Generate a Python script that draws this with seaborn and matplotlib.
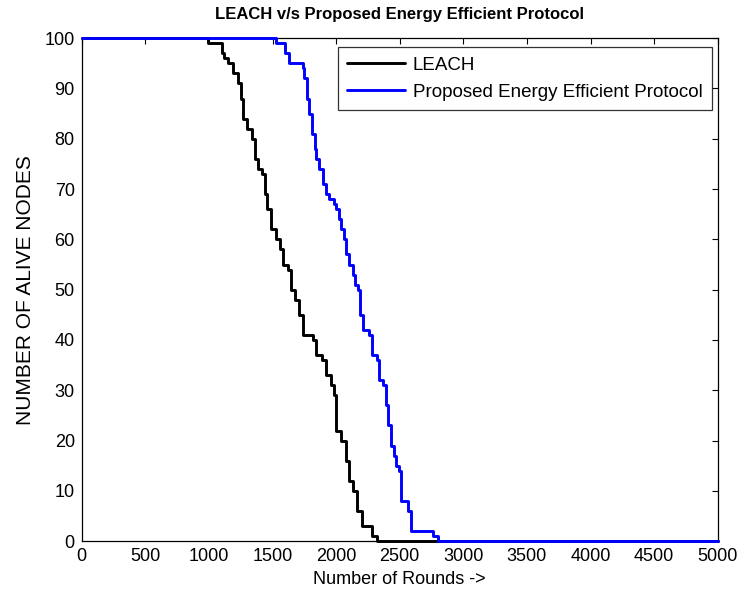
import matplotlib
matplotlib.use("Agg")
import matplotlib.pyplot as plt
import seaborn as sns
import pandas as pd

# Rounds at which the number of alive nodes changes, and the count from then on
leach_rounds = [0, 995, 1100, 1115, 1150, 1190, 1230, 1250, 1268, 1300, 1340, 1360,
                1385, 1420, 1438, 1460, 1490, 1525, 1555, 1580, 1620, 1645, 1675,
                1710, 1740, 1820, 1845, 1890, 1920, 1960, 1985, 2000, 2040, 2080,
                2105, 2130, 2165, 2200, 2280, 2320, 5000]
leach_alive = [100, 99, 97, 96, 95, 93, 91, 88, 84, 82, 80, 76,
               74, 73, 69, 66, 62, 60, 58, 55, 54, 50, 48,
               45, 41, 40, 37, 36, 33, 31, 29, 22, 20, 16,
               12, 10, 6, 3, 1, 0, 0]

proposed_rounds = [0, 1530, 1600, 1630, 1740, 1750, 1770, 1790, 1810, 1830, 1845,
                   1865, 1895, 1920, 1945, 1985, 2000, 2025, 2040, 2065, 2080, 2105,
                   2130, 2150, 2170, 2185, 2210, 2260, 2285, 2320, 2340, 2365, 2390,
                   2410, 2430, 2455, 2470, 2495, 2510, 2565, 2592, 2615, 2762, 2790,
                   2800, 5000]
proposed_alive = [100, 99, 97, 95, 94, 92, 88, 85, 81, 78, 76,
                  74, 71, 69, 68, 67, 66, 64, 62, 60, 57, 55,
                  53, 51, 50, 45, 42, 41, 37, 36, 32, 31, 27,
                  23, 19, 17, 15, 14, 8, 6, 2, 2, 1, 1,
                  0, 0]

series_names = ["LEACH", "Proposed Energy Efficient Protocol"]
x_ticks = list(range(0, 5001, 500))
y_ticks = list(range(0, 101, 10))

sns.set_theme(style="white")
plt.rcParams["font.family"] = ["Liberation Sans", "DejaVu Sans"]
plt.rcParams["text.color"] = "black"
plt.rcParams["axes.labelcolor"] = "black"

fig = plt.figure(figsize=(7.43, 5.96), dpi=100)
ax = fig.add_axes([0.110, 0.092, 0.856, 0.844])

df_leach = pd.DataFrame({"Rounds": leach_rounds, "Alive": leach_alive})
df_prop = pd.DataFrame({"Rounds": proposed_rounds, "Alive": proposed_alive})

sns.lineplot(data=df_leach, x="Rounds", y="Alive", ax=ax, color="black",
             linewidth=2.1, drawstyle="steps-post", estimator=None,
             label=series_names[0], clip_on=False, zorder=3)
sns.lineplot(data=df_prop, x="Rounds", y="Alive", ax=ax, color="#0000ff",
             linewidth=2.1, drawstyle="steps-post", estimator=None,
             label=series_names[1], clip_on=False, zorder=4)

ax.set_xlim(0, 5000)
ax.set_ylim(0, 100)
ax.set_xticks(x_ticks)
ax.set_yticks(y_ticks)
ax.tick_params(direction="in", top=True, right=True, length=4, width=0.8,
               labelsize=13, colors="black", pad=5)
for s in ax.spines.values():
    s.set_color("black")
    s.set_linewidth(0.9)
    s.set_zorder(2)

ax.set_title("LEACH v/s Proposed Energy Efficient Protocol", fontsize=12,
             fontweight="bold", pad=14)
ax.set_xlabel("Number of Rounds ->", fontsize=13, labelpad=4)
ax.set_ylabel("NUMBER OF ALIVE NODES", fontsize=15, labelpad=7)

leg = ax.legend(loc="upper right", bbox_to_anchor=(712 / 743, 1 - 47 / 596),
                bbox_transform=fig.transFigure, fontsize=13.5, frameon=True,
                fancybox=False, handlelength=3.1, borderpad=0.5,
                labelspacing=0.55, handletextpad=0.4, borderaxespad=0)
leg.get_frame().set_edgecolor("black")
leg.get_frame().set_linewidth(0.9)
for line in leg.get_lines():
    line.set_linewidth(2.1)

fig.savefig("out.png", dpi=100)
